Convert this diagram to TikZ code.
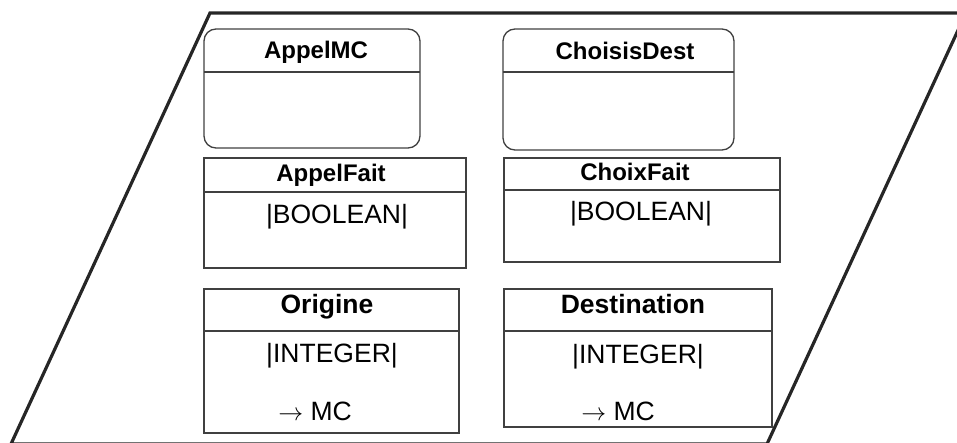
\documentclass[tikz,border=0pt]{standalone}
\usepackage{fontspec}
\setmainfont{Liberation Sans}
\usepackage{tikz}

\begin{document}
\begin{tikzpicture}[x=1pt,y=-1pt,
		cadre/.style={line width=3.2pt,draw=black!85,line join=miter},
		boite/.style={line width=1.3pt,draw=black!75},
		titre/.style={font=\bfseries\fontsize{24}{28}\selectfont,anchor=base,inner sep=0},
		grandtitre/.style={font=\bfseries\fontsize{26.5}{30}\selectfont,anchor=base,inner sep=0},
		corps/.style={font=\fontsize{26.5}{30}\selectfont,anchor=base,inner sep=0}]
			\useasboundingbox (0,0) rectangle (957,443);
			\draw[cadre] (210,13) -- (966,13) -- (767,444) -- (11,444) -- cycle;
			% evenements
			\draw[boite,rounded corners=12pt] (204,29) rectangle (420,148);
			\draw[boite] (204,72) -- (420,72);
			\node[titre] (appelmc) at (316,59) {AppelMC};
			\draw[boite,rounded corners=12pt] (503,29) rectangle (734,150);
			\draw[boite] (503,72) -- (734,72);
			\node[titre] (choisisdest) at (625,60) {ChoisisDest};
			% booleens
			\draw[boite] (204,158) rectangle (466,268);
			\draw[boite] (204,192) -- (466,192);
			\node[titre] (appelfait) at (331,182) {AppelFait};
			\node[corps] (appelfaittype) at (337,224) {|BOOLEAN|};
			\draw[boite] (504,158) rectangle (780,262);
			\draw[boite] (504,190) -- (780,190);
			\node[titre] (choixfait) at (635,181) {ChoixFait};
			\node[corps] (choixfaittype) at (641,221) {|BOOLEAN|};
			% entiers
			\draw[boite] (204,289) rectangle (459,433);
			\draw[boite] (204,331) -- (459,331);
			\node[grandtitre] (origine) at (327,313) {Origine};
			\node[corps] (originetype) at (332,362) {|INTEGER|};
			\node[corps] (originemc) at (315,420) {$\rightarrow$ MC};
			\draw[boite] (504,289) rectangle (772,427);
			\draw[boite] (504,331) -- (772,331);
			\node[grandtitre] (destination) at (633,313) {Destination};
			\node[corps] (destinationtype) at (638,363) {|INTEGER|};
			\node[corps] (destinationmc) at (618,420) {$\rightarrow$ MC};
		\end{tikzpicture}
\end{document}
